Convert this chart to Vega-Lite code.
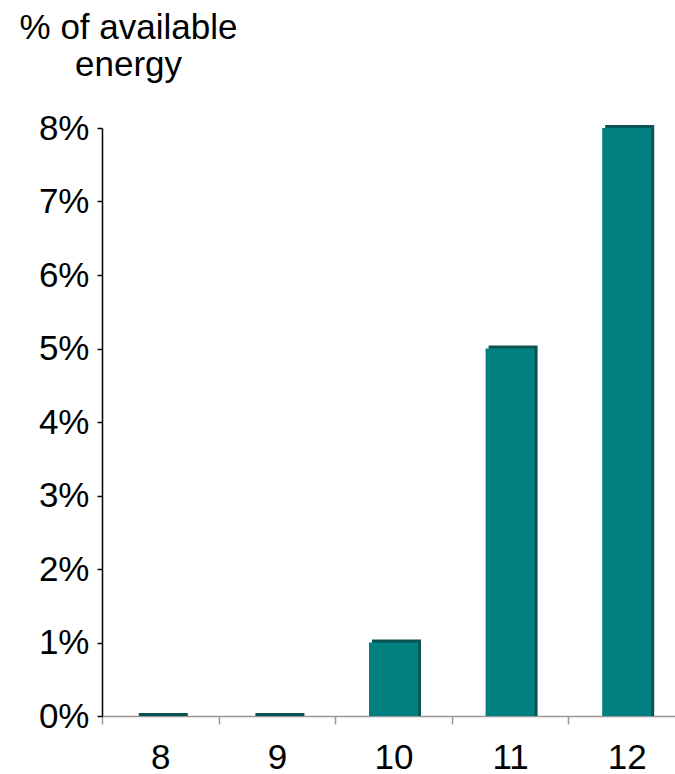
{
  "$schema": "https://vega.github.io/schema/vega-lite/v6.json",
  "autosize": "none",
  "width": 573,
  "height": 588,
  "padding": {"left": 102, "top": 128, "right": 0, "bottom": 58},
  "background": "white",
  "config": {
    "view": {"stroke": null},
    "font": "Liberation Sans"
  },
  "data": {
    "values": [
      {"category": "8", "share": 0.0},
      {"category": "9", "share": 0.0},
      {"category": "10", "share": 0.01},
      {"category": "11", "share": 0.05},
      {"category": "12", "share": 0.08}
    ]
  },
  "encoding": {
    "x": {
      "field": "category",
      "type": "ordinal",
      "sort": null,
      "scale": {"range": [0, 583], "paddingInner": 0, "paddingOuter": 0},
      "axis": {
        "title": null,
        "labelAngle": 0,
        "labelFont": "Liberation Sans",
        "labelFontSize": 35,
        "labelColor": "#000000",
        "labelPadding": 16,
        "domainColor": "#999999",
        "domainWidth": 1.5,
        "tickColor": "#999999",
        "tickWidth": 1.5,
        "tickSize": 8,
        "tickBand": "extent",
        "grid": false
      }
    },
    "y": {
      "field": "share",
      "type": "quantitative",
      "stack": null,
      "scale": {"domain": [0, 0.08], "nice": false},
      "axis": {
        "values": [0, 0.01, 0.02, 0.03, 0.04, 0.05, 0.06, 0.07, 0.08],
        "format": ".0%",
        "title": ["% of available", "energy"],
        "titleAngle": 0,
        "titleX": 26,
        "titleY": -90,
        "titleAlign": "center",
        "titleBaseline": "alphabetic",
        "titleFont": "Liberation Sans",
        "titleFontSize": 35,
        "titleFontWeight": "normal",
        "titleColor": "#000000",
        "titleLineHeight": 37,
        "labelFont": "Liberation Sans",
        "labelFontSize": 35,
        "labelColor": "#000000",
        "labelPadding": 8,
        "domainColor": "#000000",
        "domainWidth": 1.5,
        "tickColor": "#000000",
        "tickWidth": 1.5,
        "tickSize": 5,
        "grid": false
      }
    }
  },
  "layer": [
    {
      "mark": {"type": "bar", "size": 49, "color": "#0a5454", "xOffset": 3, "yOffset": -3, "y2Offset": 0},
      "encoding": {"y2": {"datum": 0}}
    },
    {
      "mark": {"type": "bar", "size": 49, "color": "#008080"},
      "encoding": {"y2": {"datum": 0}}
    }
  ]
}
